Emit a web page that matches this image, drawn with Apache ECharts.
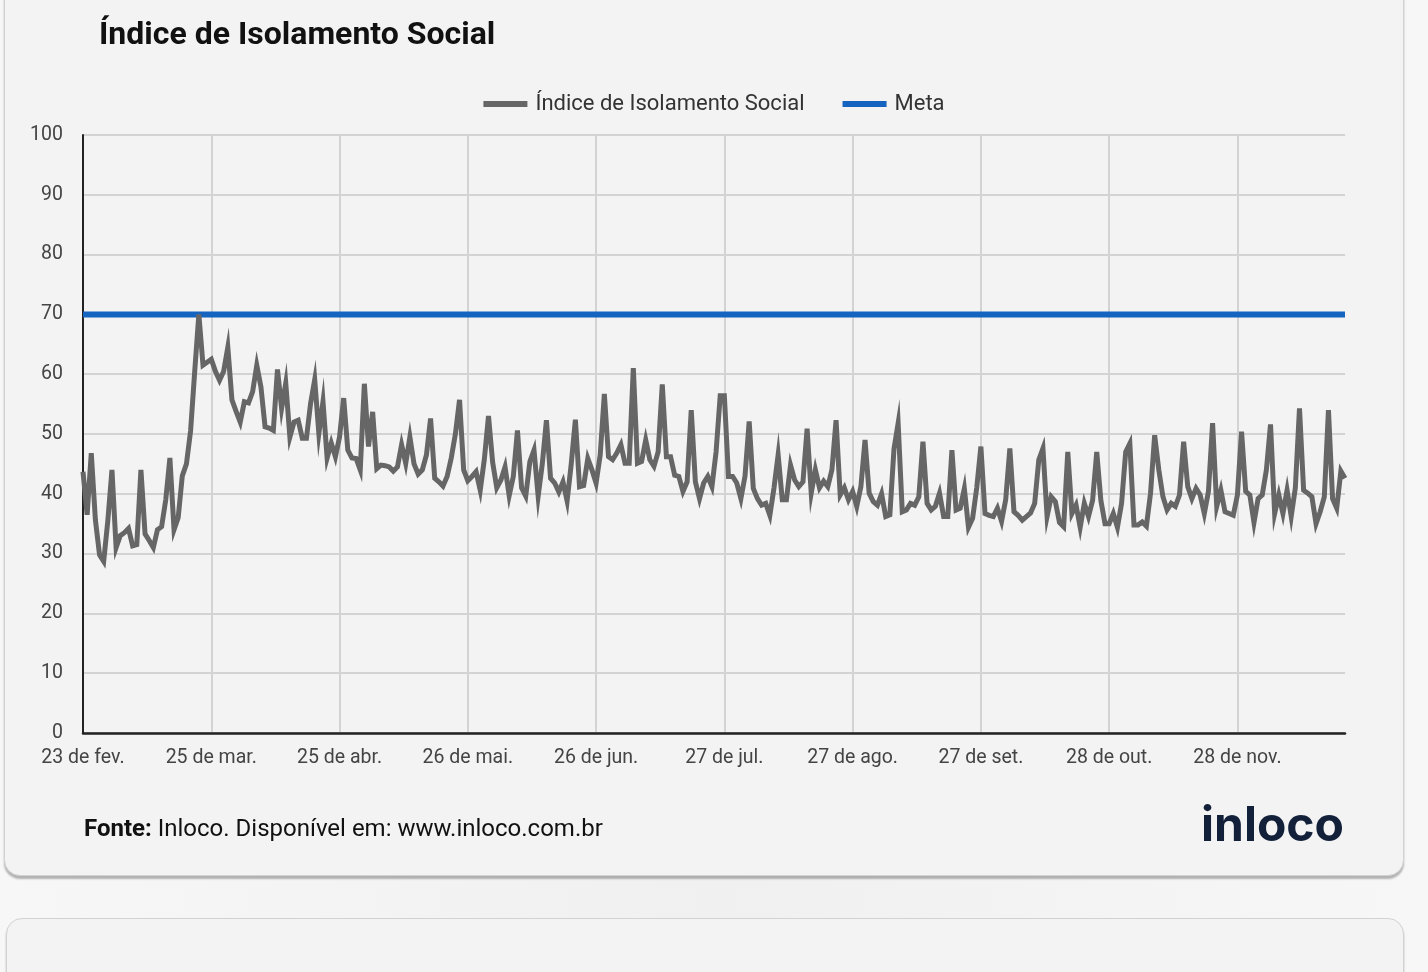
<!DOCTYPE html>
<html>
<head>
<meta charset="utf-8">
<script src="https://cdn.jsdelivr.net/npm/echarts@6/dist/echarts.min.js"></script>
<style>
  html, body { margin: 0; padding: 0; width: 1428px; height: 972px; overflow: hidden;
    background: linear-gradient(to right, #f7f7f7 0%, #f0f0f0 50%, #f7f7f7 100%); font-family: Roboto, sans-serif; }
  .card { position: absolute; background: #f3f3f3; border: 1px solid #d2d2d2; border-radius: 16px;
    box-shadow: 0 3px 2px rgba(0,0,0,0.28); box-sizing: border-box; }
  #card1 { left: 4px; top: -40px; width: 1400px; height: 916px; }
  #card2 { left: 6px; top: 918px; width: 1398px; height: 120px; }
  #chart { position: absolute; left: 0; top: 0; width: 1428px; height: 972px; }
</style>
</head>
<body>
<div class="card" id="card1"></div>
<div class="card" id="card2"></div>
<div id="chart"></div>
<script>
// ---- data ----
const startDate = [2020, 1, 23]; // 23 Feb 2020 (month is 0-based)
const dayCount = 306;
const tickLabels = ['23 de fev.', '25 de mar.', '25 de abr.', '26 de mai.', '26 de jun.',
  '27 de jul.', '27 de ago.', '27 de set.', '28 de out.', '28 de nov.'];
const isolationValues = [
  43.7, 36.5, 46.8, 35.6, 29.8, 28.7, 35.5, 44.0, 31.0, 33.0,
  33.5, 34.2, 31.3, 31.5, 44.0, 33.3, 32.2, 31.0, 34.0, 34.5,
  39.0, 46.0, 34.0, 36.0, 43.0, 45.0, 50.5, 60.5, 70.0, 61.5,
  62.0, 62.5, 60.5, 59.0, 60.5, 64.5, 55.7, 53.8, 52.0, 55.4,
  55.2, 57.1, 61.5, 57.9, 51.2, 51.0, 50.6, 60.8, 54.3, 58.5,
  49.5, 52.0, 52.3, 49.3, 49.3, 55.1, 59.1, 50.1, 55.4, 46.0,
  48.5, 46.2, 49.5, 56.0, 47.3, 46.0, 45.9, 44.0, 58.4, 47.9,
  53.7, 44.2, 44.8, 44.7, 44.5, 43.8, 44.5, 48.2, 45.1, 49.5,
  45.0, 43.3, 44.0, 46.5, 52.6, 42.6, 42.0, 41.3, 42.9, 46.0,
  50.0, 55.7, 44.0, 42.2, 42.9, 43.7, 40.6, 45.8, 53.0, 45.3,
  41.0, 42.3, 44.5, 39.7, 42.9, 50.6, 41.0, 39.6, 45.4, 47.3,
  39.6, 45.0, 52.3, 42.6, 41.8, 40.3, 42.0, 38.8, 45.0, 52.4,
  41.2, 41.4, 45.9, 44.0, 41.8, 46.5, 56.7, 46.2, 45.7, 46.8,
  48.2, 45.1, 45.1, 61.0, 45.1, 45.4, 49.0, 45.7, 44.6, 47.0,
  58.3, 46.2, 46.2, 43.1, 42.9, 40.4, 42.0, 54.0, 42.0, 39.2,
  41.8, 42.9, 41.2, 47.0, 56.4, 56.4, 42.9, 42.9, 41.8, 39.2,
  43.0, 52.1, 40.9, 39.2, 38.1, 38.4, 36.4, 41.0, 46.5, 39.0,
  39.0, 44.8, 42.3, 41.2, 42.0, 50.9, 40.1, 44.0, 41.0, 42.1,
  41.2, 44.0, 52.3, 39.8, 41.0, 39.0, 40.4, 37.9, 41.2, 49.0,
  40.1, 38.7, 38.1, 40.0, 36.2, 36.5, 47.5, 51.8, 37.0, 37.3,
  38.4, 38.1, 39.5, 48.7, 38.4, 37.3, 37.9, 40.1, 36.2, 36.2,
  47.3, 37.3, 37.6, 40.9, 34.4, 35.9, 41.0, 47.9, 36.7, 36.4,
  36.2, 37.6, 35.4, 39.0, 47.6, 37.0, 36.4, 35.6, 36.2, 36.8,
  38.4, 45.7, 47.6, 36.2, 39.5, 38.7, 35.2, 34.5, 47.0, 36.7,
  38.1, 34.4, 38.4, 36.2, 38.9, 47.0, 38.9, 35.0, 35.0, 36.7,
  34.4, 38.4, 47.0, 48.4, 34.8, 34.8, 35.3, 34.6, 40.1, 49.8,
  44.0, 39.5, 37.3, 38.4, 37.9, 39.8, 48.7, 41.2, 39.2, 40.9,
  39.8, 36.7, 40.4, 51.8, 37.9, 40.6, 37.0, 36.7, 36.4, 39.8,
  50.4, 40.4, 39.8, 35.2, 39.2, 39.8, 44.0, 51.6, 36.7, 39.8,
  36.7, 40.6, 36.2, 41.0, 54.3, 40.6, 40.1, 39.5, 35.0, 37.0,
  39.5, 54.0, 39.2, 37.6, 43.8, 42.6
];
const metaValue = 70;
const seriesNames = ['Índice de Isolamento Social', 'Meta'];

// categories: one per day
const categories = [];
for (let i = 0; i < dayCount; i++) {
  const d = new Date(startDate[0], startDate[1], startDate[2] + i);
  categories.push(d.getFullYear() + '-' + String(d.getMonth() + 1).padStart(2, '0') + '-' + String(d.getDate()).padStart(2, '0'));
}
const metaData = [[categories[0], metaValue], [categories[categories.length - 1], metaValue]];

const chart = echarts.init(document.getElementById('chart'), null, { renderer: 'canvas' });
const FONT = 'Roboto';
chart.setOption({
  backgroundColor: 'transparent',
  animation: false,
  textStyle: { fontFamily: FONT },
  title: {
    text: 'Índice de Isolamento Social',
    left: 94, top: 15,
    textStyle: { fontFamily: FONT, fontSize: 32, fontWeight: 'bold', color: '#111111' }
  },
  legend: {
    data: seriesNames,
    top: 88, left: 'center',
    icon: 'rect', itemWidth: 44, itemHeight: 6, itemGap: 38,
    textStyle: { fontFamily: FONT, fontSize: 22, color: '#333333', padding: [0, 0, 0, 3] }
  },
  grid: { left: 83, right: 83, top: 135, bottom: 239, containLabel: false },
  xAxis: {
    type: 'category',
    data: categories,
    boundaryGap: false,
    axisLine: { show: true, lineStyle: { color: '#222222', width: 2.5 } },
    axisTick: { show: false },
    axisLabel: {
      interval: 30, margin: 15, fontFamily: FONT, fontSize: 19.5, color: '#444444',
      formatter: function (v, idx) { return tickLabels[Math.round(idx / 31)] || ''; }
    },
    splitLine: { show: true, interval: 30, lineStyle: { color: '#d3d3d3', width: 2 } }
  },
  yAxis: {
    type: 'value', min: 0, max: 100, interval: 10,
    axisLine: { show: true, lineStyle: { color: '#222222', width: 2 } },
    axisTick: { show: false },
    axisLabel: { margin: 20, fontFamily: FONT, fontSize: 19.5, color: '#444444' },
    splitLine: { show: true, lineStyle: { color: '#d3d3d3', width: 2 } }
  },
  series: [
    {
      name: seriesNames[0], type: 'line', data: isolationValues,
      showSymbol: false, symbol: 'none', z: 4,
      itemStyle: { color: '#666666' },
      lineStyle: { color: '#666666', width: 5, join: 'miter' }
    },
    {
      name: seriesNames[1], type: 'line', data: metaData,
      showSymbol: false, symbol: 'none', z: 3,
      itemStyle: { color: '#1565c0' },
      lineStyle: { color: '#1565c0', width: 6 }
    }
  ],
  graphic: [
    {
      type: 'text', left: 84, top: 818,
      style: {
        text: '{b|Fonte:} Inloco. Disponível em: www.inloco.com.br',
        rich: { b: { fontWeight: 'bold', fontSize: 24, fontFamily: FONT, fill: '#111111' } },
        fontSize: 24, fontFamily: FONT, fill: '#111111'
      }
    },
    {
      type: 'text', right: 84, top: 803,
      style: { text: 'inloco', fontFamily: 'Inter', fontWeight: 'bold', fontSize: 48, fill: '#13203a' }
    }
  ]
});
</script>
</body>
</html>
